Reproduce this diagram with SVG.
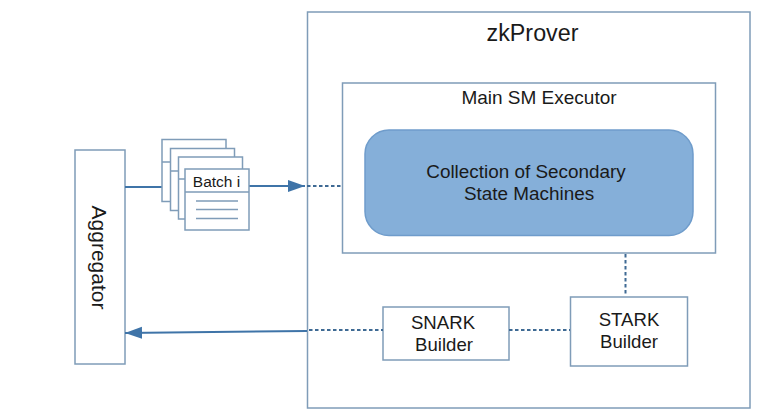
<svg xmlns="http://www.w3.org/2000/svg" width="778" height="410" viewBox="0 0 778 410">
<style>
.b{fill:#fff;stroke:#7f9cb8;stroke-width:1.5}
.t{font-family:"Liberation Sans",Arial,sans-serif;fill:#1a1a1a;text-anchor:middle}
.c{fill:none;stroke:#3f74a8;stroke-width:2}
.d{fill:none;stroke:#3f6a94;stroke-width:2;stroke-dasharray:3.5 2.5}
.l{fill:none;stroke:#7f9cb8;stroke-width:1.3}
</style>
<defs>
<marker id="a" markerUnits="userSpaceOnUse" markerWidth="18" markerHeight="14" refX="17" refY="6" orient="auto"><path d="M0 0L17 6L0 12Z" fill="#3f74a8"/></marker>
</defs>
<rect width="778" height="410" fill="#fff"/>
<g id="zkprover"><rect class="b" x="307.500" y="12" width="442.500" height="396"/><text class="t" x="532.500" y="41" font-size="23.300">zkProver</text></g>
<g id="main-sm"><rect class="b" x="342.500" y="83" width="373" height="170"/><text class="t" x="539" y="104" font-size="19">Main SM Executor</text></g>
<g id="secondary"><rect x="365" y="130" width="328" height="105.500" rx="24" fill="#85afd9" stroke="#6f9ccb" stroke-width="1.500"/><text class="t" x="526" y="178" font-size="18.900">Collection of Secondary</text><text class="t" x="529" y="200" font-size="18.900">State Machines</text></g>
<g id="aggregator"><rect class="b" x="75" y="150" width="50" height="214"/><text class="t" font-size="21" transform="translate(91.500 257.500) rotate(90)">Aggregator</text></g>
<g id="snark"><rect class="b" x="383" y="307" width="126" height="53"/><text class="t" x="443" y="329" font-size="18.600">SNARK</text><text class="t" x="444" y="351" font-size="18.600">Builder</text></g>
<g id="stark"><rect class="b" x="570.500" y="297" width="117" height="69"/><text class="t" x="629" y="326" font-size="18.600">STARK</text><text class="t" x="629" y="348" font-size="18.600">Builder</text></g>
<g id="connectors">
<path class="c" d="M125 187H162"/>
<path class="c" d="M249 186H305" marker-end="url(#a)"/>
<path class="d" d="M307 186H342"/>
<path class="c" d="M307 331L125 333" marker-end="url(#a)"/>
<path class="d" d="M309 330H383"/>
<path class="d" d="M509 330H570"/>
<path class="d" d="M625.500 254V296"/>
</g>
<g id="batch">
<rect class="b" x="162" y="139.500" width="64" height="62"/>
<rect class="b" x="170.500" y="148.500" width="64" height="62"/>
<rect class="b" x="178.500" y="157" width="64" height="62"/>
<rect class="b" x="185" y="169" width="64" height="61"/>
<path class="l" d="M162 162H170.500M170.500 171H178.500M178.500 179H185"/>
<path class="l" d="M185 192H249M196 201H238M196 209.500H238M196 218.500H238"/>
<text class="t" x="216.500" y="186.500" font-size="15.500">Batch i</text>
</g>
</svg>
